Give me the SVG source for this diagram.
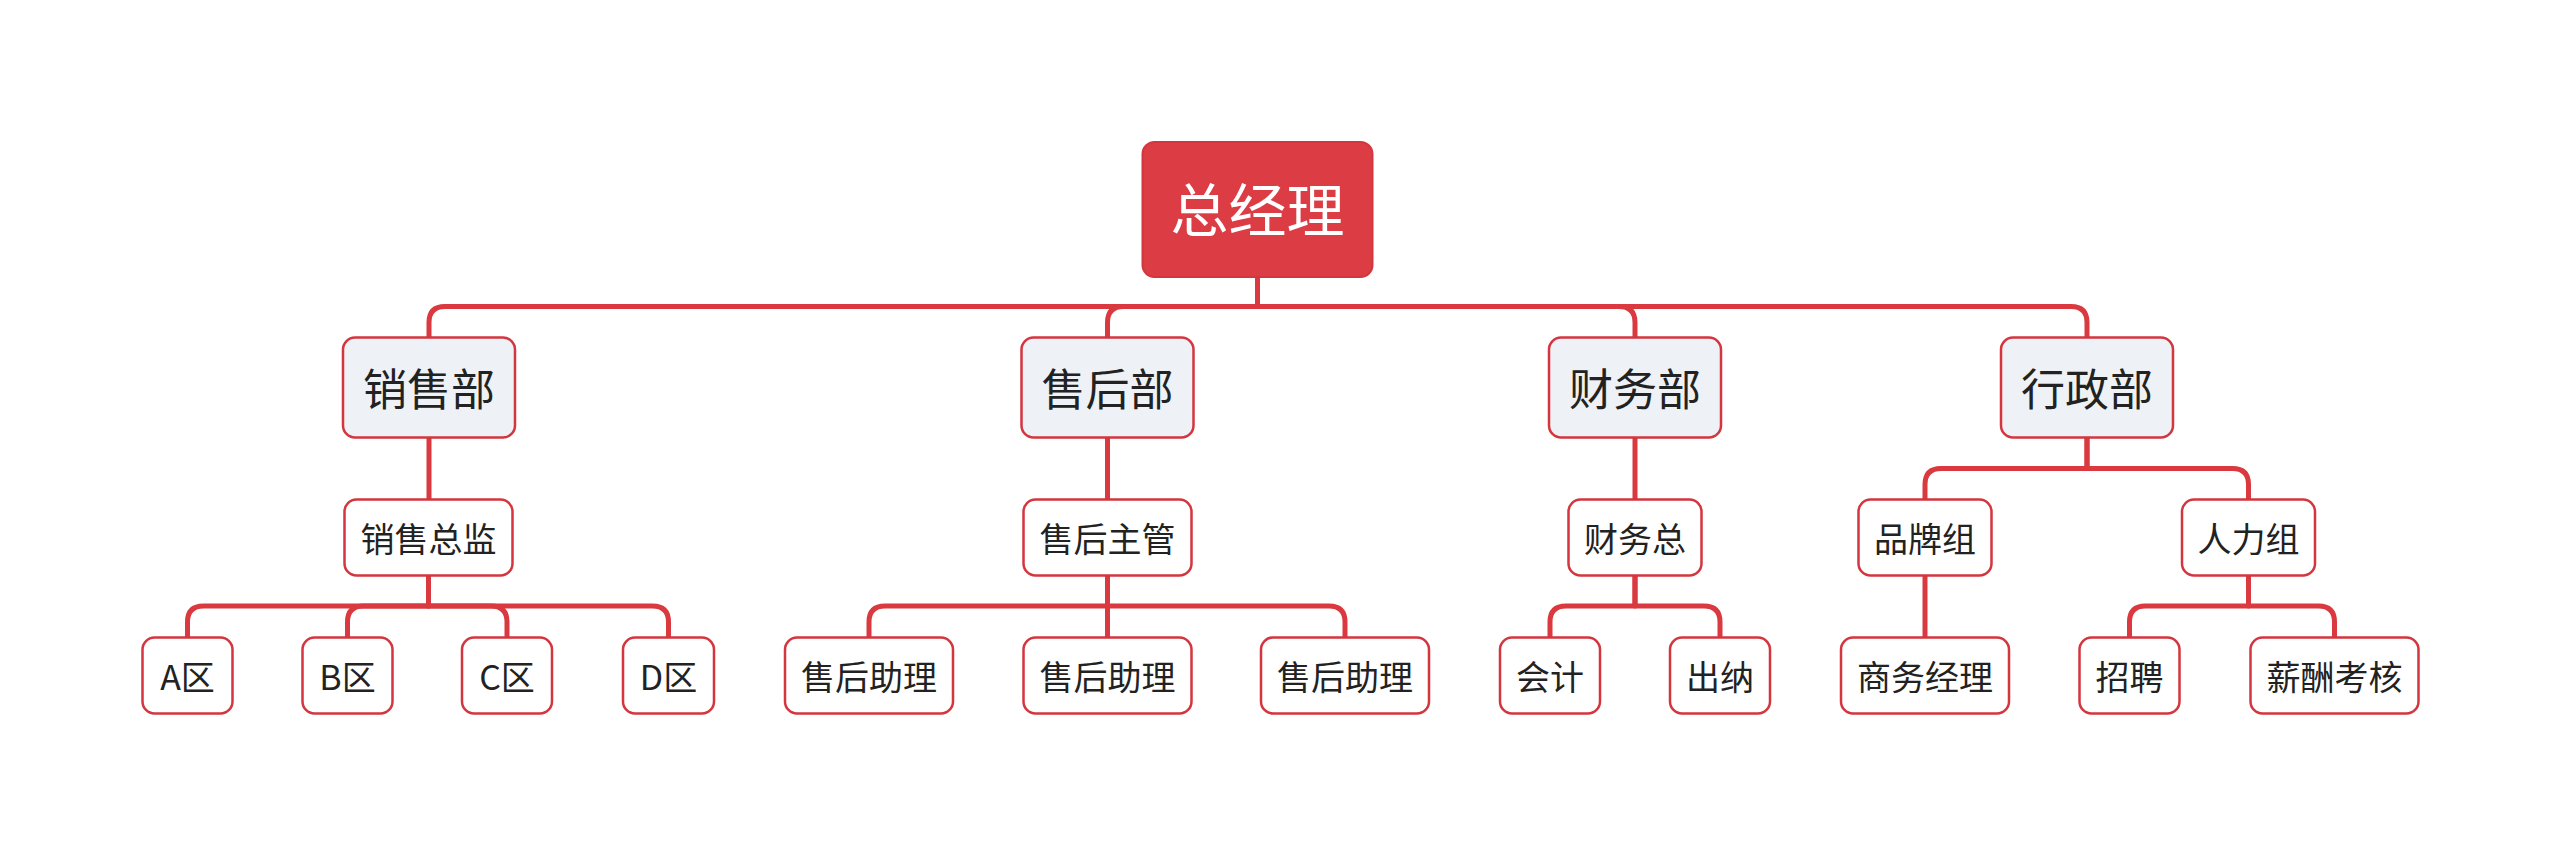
<svg xmlns="http://www.w3.org/2000/svg" width="2560" height="856" viewBox="0 0 2560 856">
<style>
.bg{fill:#ffffff}
.conn path{fill:none;stroke:#d9393f;stroke-width:5;stroke-linecap:round;stroke-linejoin:round}
.root rect{fill:#dc3c44;stroke:#d3363e;stroke-width:2}
.l1 rect{fill:#eef1f5;stroke:#d3363e;stroke-width:2.5}
.l2 rect{fill:#ffffff;stroke:#d3363e;stroke-width:2.5}
text{font-family:"Noto Sans CJK SC","Noto Sans",sans-serif;text-anchor:middle;dominant-baseline:central;fill:#222222}
.root text{fill:#ffffff;font-size:58px}
.l1 text{font-size:44px}
.l2 text{font-size:34px}
</style>
<rect class="bg" x="0" y="0" width="2560" height="856"/>
<g id="connectors" class="conn">
<!-- root to level1 -->
<path d="M1257.5,277 V306.5 H445 Q429,306.5 429,322.5 V337.5"/>
<path d="M1257.5,277 V306.5 H1123.5 Q1107.5,306.5 1107.5,322.5 V337.5"/>
<path d="M1257.5,277 V306.5 H1619 Q1635,306.5 1635,322.5 V337.5"/>
<path d="M1257.5,277 V306.5 H2071 Q2087,306.5 2087,322.5 V337.5"/>
<!-- level1 to level2 -->
<path d="M429,437.5 V499.5"/>
<path d="M1107.5,437.5 V499.5"/>
<path d="M1635,437.5 V499.5"/>
<path d="M2087,437.5 V468.5 H1941 Q1925,468.5 1925,484.5 V499.5"/>
<path d="M2087,437.5 V468.5 H2232.5 Q2248.5,468.5 2248.5,484.5 V499.5"/>
<!-- 销售总监 -->
<path d="M428.5,575.5 V606 H203.5 Q187.5,606 187.5,622 V637.5"/>
<path d="M428.5,575.5 V606 H363.5 Q347.5,606 347.5,622 V637.5"/>
<path d="M428.5,575.5 V606 H491 Q507,606 507,622 V637.5"/>
<path d="M428.5,575.5 V606 H652.5 Q668.5,606 668.5,622 V637.5"/>
<!-- 售后主管 -->
<path d="M1107.5,575.5 V606 H885 Q869,606 869,622 V637.5"/>
<path d="M1107.5,575.5 V637.5"/>
<path d="M1107.5,575.5 V606 H1329 Q1345,606 1345,622 V637.5"/>
<!-- 财务总 -->
<path d="M1635,575.5 V606 H1566 Q1550,606 1550,622 V637.5"/>
<path d="M1635,575.5 V606 H1704 Q1720,606 1720,622 V637.5"/>
<!-- 品牌组 -->
<path d="M1925,575.5 V637.5"/>
<!-- 人力组 -->
<path d="M2248.5,575.5 V606 H2145.5 Q2129.5,606 2129.5,622 V637.5"/>
<path d="M2248.5,575.5 V606 H2318.5 Q2334.5,606 2334.5,622 V637.5"/>
</g>
<g id="n-root" class="root"><rect x="1142.5" y="142" width="230" height="135" rx="12"/><text x="1257.5" y="207">总经理</text></g>
<g id="n-xsb" class="l1"><rect x="343" y="337.5" width="172" height="100" rx="12"/><text x="429" y="387">销售部</text></g>
<g id="n-shb" class="l1"><rect x="1021.5" y="337.5" width="172" height="100" rx="12"/><text x="1107.5" y="387">售后部</text></g>
<g id="n-cwb" class="l1"><rect x="1549" y="337.5" width="172" height="100" rx="12"/><text x="1635" y="387">财务部</text></g>
<g id="n-xzb" class="l1"><rect x="2001" y="337.5" width="172" height="100" rx="12"/><text x="2087" y="387">行政部</text></g>
<g id="n-xszj" class="l2"><rect x="344.5" y="499.5" width="168" height="76" rx="12"/><text x="428.5" y="537">销售总监</text></g>
<g id="n-shzg" class="l2"><rect x="1023.5" y="499.5" width="168" height="76" rx="12"/><text x="1107.5" y="537">售后主管</text></g>
<g id="n-cwz" class="l2"><rect x="1568.5" y="499.5" width="133" height="76" rx="12"/><text x="1635" y="537">财务总</text></g>
<g id="n-ppz" class="l2"><rect x="1858.5" y="499.5" width="133" height="76" rx="12"/><text x="1925" y="537">品牌组</text></g>
<g id="n-rlz" class="l2"><rect x="2182" y="499.5" width="133" height="76" rx="12"/><text x="2248.5" y="537">人力组</text></g>
<g id="n-a" class="l2"><rect x="142.5" y="637.5" width="90" height="76" rx="12"/><text x="187.5" y="675">A区</text></g>
<g id="n-b" class="l2"><rect x="302.5" y="637.5" width="90" height="76" rx="12"/><text x="347.5" y="675">B区</text></g>
<g id="n-c" class="l2"><rect x="462" y="637.5" width="90" height="76" rx="12"/><text x="507" y="675">C区</text></g>
<g id="n-d" class="l2"><rect x="623" y="637.5" width="91" height="76" rx="12"/><text x="668.5" y="675">D区</text></g>
<g id="n-shzl1" class="l2"><rect x="785" y="637.5" width="168" height="76" rx="12"/><text x="869" y="675">售后助理</text></g>
<g id="n-shzl2" class="l2"><rect x="1023.5" y="637.5" width="168" height="76" rx="12"/><text x="1107.5" y="675">售后助理</text></g>
<g id="n-shzl3" class="l2"><rect x="1261" y="637.5" width="168" height="76" rx="12"/><text x="1345" y="675">售后助理</text></g>
<g id="n-kj" class="l2"><rect x="1500" y="637.5" width="100" height="76" rx="12"/><text x="1550" y="675">会计</text></g>
<g id="n-cn" class="l2"><rect x="1670" y="637.5" width="100" height="76" rx="12"/><text x="1720" y="675">出纳</text></g>
<g id="n-swjl" class="l2"><rect x="1841" y="637.5" width="168" height="76" rx="12"/><text x="1925" y="675">商务经理</text></g>
<g id="n-zp" class="l2"><rect x="2079.5" y="637.5" width="100" height="76" rx="12"/><text x="2129.5" y="675">招聘</text></g>
<g id="n-xckh" class="l2"><rect x="2250.5" y="637.5" width="168" height="76" rx="12"/><text x="2334.5" y="675">薪酬考核</text></g>
</svg>
